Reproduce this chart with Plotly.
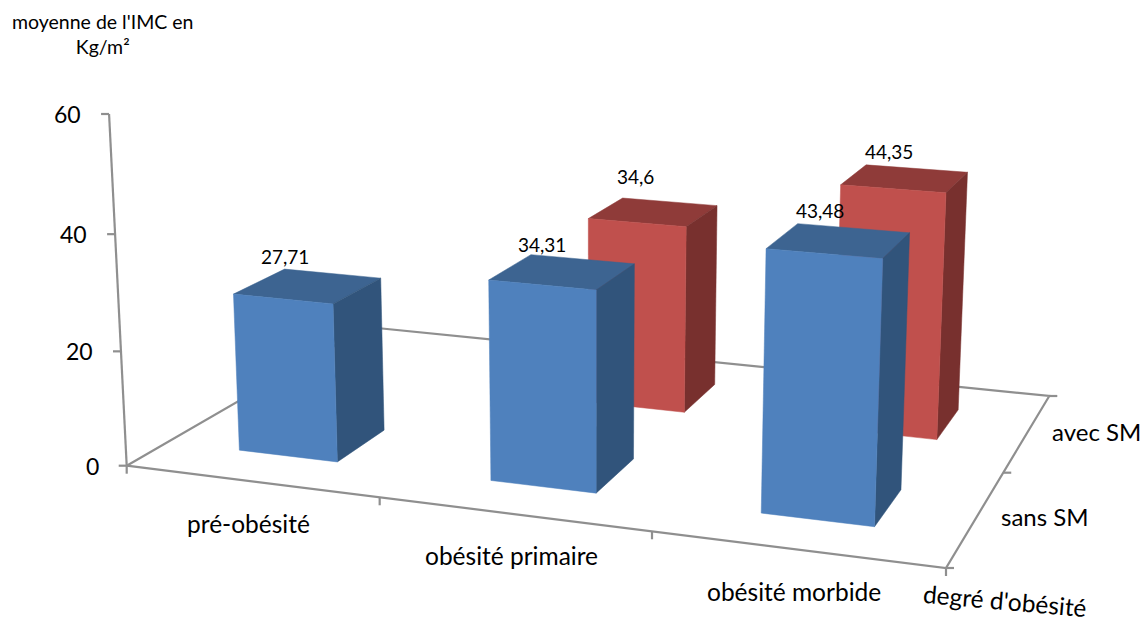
import numpy as np
import plotly.graph_objects as go

# Chart values
categories = ["pré-obésité", "obésité primaire", "obésité morbide"]
series_names = ["sans SM", "avec SM"]
sans_sm = [27.71, 34.31, 43.48]
avec_sm = [None, 34.6, 44.35]
value_ticks = [0, 20, 40, 60]
y_title = "moyenne de l'IMC en<br>Kg/m²"
x_title = "degré d'obésité"

# Perspective of the 3-D box: floor corners on the page, the point where
# verticals converge, and the top of the value axis.
FLOOR = np.array([[126.7, 465.7], [946, 568], [1049.3, 396], [367, 327]])
VERTICAL_VP = np.array([592.0, 9750.0])
AXIS_TOP_Y = 114.0
AXIS_MAX = 60
BAR_LO, BAR_HI = 0.295, 0.693

FACE_COLOURS = {
    "sans SM": dict(front="#4F81BD", top="#3D6491", side="#31547B"),
    "avec SM": dict(front="#C0504D", top="#8F3B39", side="#78302E"),
}
GREY = "#8F8F8F"
FONT = "Lato"
TEXT = "#000000"

# Nudges of the value labels relative to the centre of each bar's top face
LABEL_SHIFT = {
    ("sans SM", 0): (-25, -29),
    ("sans SM", 1): (-23, -27),
    ("sans SM", 2): (-21, -30),
    ("avec SM", 1): (-20, -35),
    ("avec SM", 2): (-18, -27),
}


def floor_matrix():
    src = [(0, 0), (3, 0), (3, 2), (0, 2)]
    A, b = [], []
    for (u, v), (x, y) in zip(src, FLOOR):
        A.append([u, v, 1, 0, 0, 0, -u * x, -v * x])
        b.append(x)
        A.append([0, 0, 0, u, v, 1, -u * y, -v * y])
        b.append(y)
    h = np.linalg.solve(np.array(A, float), np.array(b, float))
    return np.append(h, 1).reshape(3, 3)


H = floor_matrix()
k = (FLOOR[0][1] - AXIS_TOP_Y) / (AXIS_TOP_Y - VERTICAL_VP[1]) / AXIS_MAX


def project(u, v, w=0.0):
    """Category position u, series position v, value w -> page position."""
    p = H @ np.array([u, v, 1.0]) + w * k * np.array([VERTICAL_VP[0], VERTICAL_VP[1], 1.0])
    return float(p[0] / p[2]), float(p[1] / p[2])


fig = go.Figure()


def polyline(points, color=GREY, width=2.2):
    xs, ys = zip(*points)
    fig.add_trace(go.Scatter(x=xs, y=ys, mode="lines", hoverinfo="skip",
                             line=dict(color=color, width=width)))


def face(corners, color, name):
    xs, ys = zip(*[project(*c) for c in corners])
    fig.add_trace(go.Scatter(x=xs + xs[:1], y=ys + ys[:1], mode="lines", fill="toself",
                             fillcolor=color, name=name, hoverinfo="name",
                             line=dict(color=color, width=0.5)))


def label(x, y, text, size, anchor="center", angle=0):
    fig.add_annotation(x=x, y=y, text=text, showarrow=False, xanchor=anchor, yanchor="middle",
                       textangle=angle, font=dict(family=FONT, size=size, color=TEXT))


# Floor outline and value axis
polyline([project(*c) for c in [(0, 2), (0, 0), (3, 0), (3, 2), (0, 2)]])
polyline([project(0, 0, 0), project(0, 0, AXIS_MAX)])

# Tick marks
TICK = 8
for w in value_ticks:
    x, y = project(0, 0, w)
    polyline([(x, y), (x - TICK, y)])
    label(x - 26, y, str(w), 23, anchor="right")
for i in range(len(categories) + 1):
    x, y = project(i, 0)
    polyline([(x, y), (x, y + TICK)])
for j in range(len(series_names) + 1):
    x, y = project(3, j)
    polyline([(x, y), (x + TICK, y)])

# Bars, back row first so that the front row covers it
rows = [("avec SM", 1, avec_sm), ("sans SM", 0, sans_sm)]
for name, j, values in rows:
    colours = FACE_COLOURS[name]
    for i, value in enumerate(values):
        if value is None:
            continue
        u0, u1 = i + BAR_LO, i + BAR_HI
        v0, v1 = j + BAR_LO, j + BAR_HI
        face([(u0, v0, value), (u1, v0, value), (u1, v1, value), (u0, v1, value)],
             colours["top"], f"{categories[i]} – {name}: {value}")
        face([(u1, v0, 0), (u1, v1, 0), (u1, v1, value), (u1, v0, value)],
             colours["side"], f"{categories[i]} – {name}: {value}")
        face([(u0, v0, 0), (u1, v0, 0), (u1, v0, value), (u0, v0, value)],
             colours["front"], f"{categories[i]} – {name}: {value}")

# Value labels
for name, j, values in rows:
    for i, value in enumerate(values):
        if value is None:
            continue
        x, y = project(i + 0.5, j + 0.5, value)
        dx, dy = LABEL_SHIFT[(name, i)]
        label(x + dx, y + dy, str(value).replace(".", ","), 19)

# Category and series labels
for i, text in enumerate(categories):
    x, y = project(i + 0.5, 0)
    label(x - 2, y + 42, text, 24.5)
for j, text in enumerate(series_names):
    x, y = project(3, j + 0.5)
    label(x + 23, y - 1, text, 24, anchor="left")

# Axis titles
label(102, 34, y_title, 19.5)
label(1005, 600, x_title, 24.5, angle=5)

fig.update_layout(
    width=1146, height=622, margin=dict(l=0, r=0, t=0, b=0), showlegend=False,
    plot_bgcolor="white", paper_bgcolor="white",
    xaxis=dict(range=[0, 1146], visible=False, fixedrange=True),
    yaxis=dict(range=[622, 0], visible=False, fixedrange=True),
)
fig.write_html("out.html")
